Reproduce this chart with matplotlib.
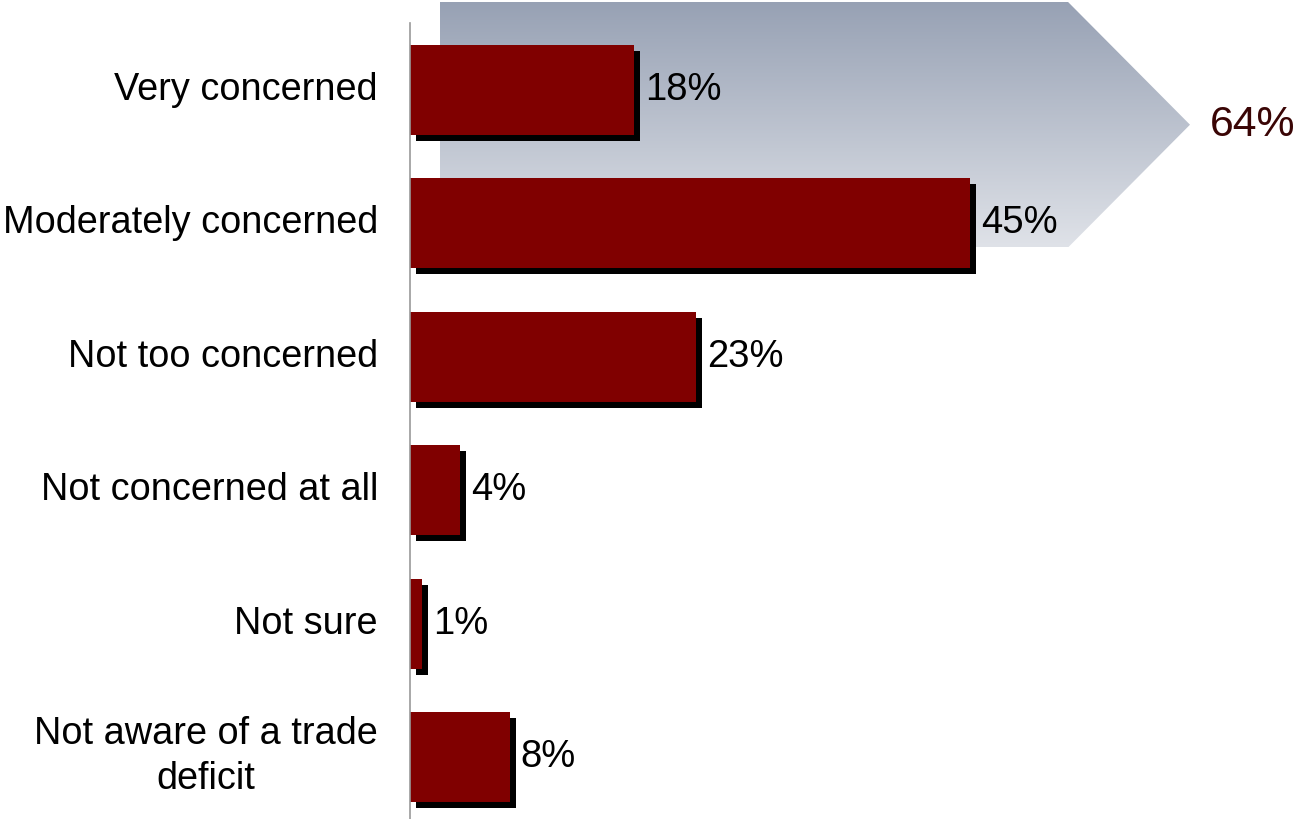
import numpy as np
import matplotlib.pyplot as plt
from matplotlib.patches import Polygon
from matplotlib.transforms import offset_copy
import matplotlib.colors as mcolors

plt.rcParams['font.family'] = ['Liberation Sans', 'DejaVu Sans']

# Survey responses (percent)
categories = [
    "Very concerned",
    "Moderately concerned",
    "Not too concerned",
    "Not concerned at all",
    "Not sure",
    "Not aware of a trade\ndeficit",
]
values = [18, 45, 23, 4, 1, 8]
concerned_total = 64  # very + moderately concerned

BAR_COLOR = "#800000"
TOTAL_COLOR = "#3a0505"

fig = plt.figure(figsize=(12.96, 8.19), dpi=100)
ax = fig.add_axes([410 / 1296, 0, 1 - 410 / 1296, 1])

px_per_unit = 12.44
xmax = (1296 - 410) / px_per_unit
ax.axis('off')

y = np.arange(len(categories))

# Gradient arrow grouping the two "concerned" rows
arrow_left, arrow_body, arrow_tip = 2.4, 52.9, 62.7
arrow_top, arrow_bottom = -0.66, 1.18
arrow_mid = 0.26
verts = [(arrow_left, arrow_top), (arrow_body, arrow_top), (arrow_tip, arrow_mid),
         (arrow_body, arrow_bottom), (arrow_left, arrow_bottom)]
arrow = Polygon(verts, closed=True, facecolor='none', edgecolor='none')
ax.add_patch(arrow)
grad_cmap = mcolors.LinearSegmentedColormap.from_list("arrow", ["#97a1b4", "#dfe2e8"])
grad = np.linspace(0, 1, 256).reshape(-1, 1)
img = ax.imshow(grad, cmap=grad_cmap, aspect='auto',
                extent=(arrow_left, arrow_tip, arrow_bottom, arrow_top),
                zorder=0, interpolation='bicubic')
img.set_clip_path(arrow)
ax.set_xlim(0, xmax)
ax.set_ylim(5.465, -0.675)

ax.text(arrow_tip + 1.6, arrow_mid, f"{concerned_total}%", fontsize=30.8,
        color=TOTAL_COLOR, va='center', ha='left')

# Drop shadows, then bars
shadow_tr = offset_copy(ax.transData, fig=fig, x=6, y=-6, units='dots')
ax.barh(y, values, height=0.675, color='black', transform=shadow_tr, zorder=2)
ax.barh(y, values, height=0.675, color=BAR_COLOR, zorder=3)

# Vertical baseline
ax.plot([0, 0], [-0.5, 5.6], color='#999999', linewidth=1.2, zorder=4, clip_on=False)

for yi, v in zip(y, values):
    ax.annotate(f"{v}%", xy=(v, yi), xytext=(8, 0), textcoords='offset points',
                fontsize=27.5, va='center', ha='left', zorder=5)

for yi, label in zip(y, categories):
    ax.annotate(label, xy=(0, yi), xytext=(-32, 0), textcoords='offset pixels',
                fontsize=27.3, va='center', ha='right', multialignment='center',
                linespacing=1.32, annotation_clip=False)

fig.savefig("out.png", dpi=100)
